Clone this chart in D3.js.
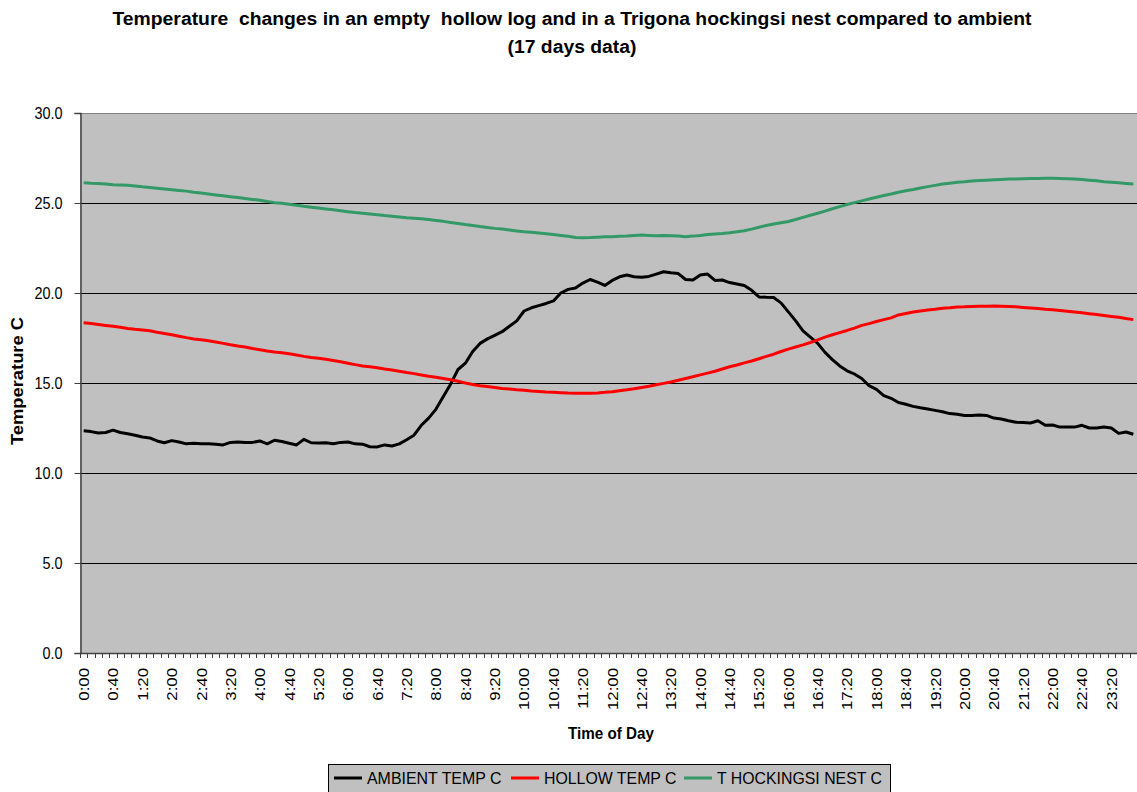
<!DOCTYPE html>
<html>
<head>
<meta charset="utf-8">
<script src="https://cdn.jsdelivr.net/npm/d3@7"></script>
<style>
  body { margin: 0; background: #fff; }
  text { font-family: "Liberation Sans", Arial, sans-serif; }
</style>
</head>
<body>
<div id="chart"></div>
<script>
var width = 1137;
var height = 792;
var margin = { top: 113, bottom: 139, right: 0, left: 80 };

// 10 minute readings, averaged over 17 days
var times = d3.range(144).map(function(i) {
  return Math.floor(i / 6) + ":" + String((i % 6) * 10).padStart(2, "0");
});

var tickLabels = ["0:00","0:40","1:20","2:00","2:40","3:20","4:00","4:40","5:20","6:00",
  "6:40","7:20","8:00","8:40","9:20","10:00","10:40","11:20","12:00","12:40","13:20",
  "14:00","14:40","15:20","16:00","16:40","17:20","18:00","18:40","19:20","20:00",
  "20:40","21:20","22:00","22:40","23:20"];

var yTicks = [0, 5, 10, 15, 20, 25, 30];

var ambient = [
  12.35,12.3,12.22,12.25,12.38,12.25,12.18,12.1,12.0,11.95,
  11.78,11.68,11.8,11.72,11.62,11.65,11.62,11.62,11.6,11.56,
  11.7,11.72,11.7,11.7,11.78,11.62,11.82,11.75,11.65,11.56,
  11.87,11.68,11.66,11.68,11.62,11.7,11.72,11.62,11.6,11.46,
  11.45,11.56,11.5,11.62,11.85,12.1,12.65,13.05,13.55,14.25,
  14.95,15.75,16.1,16.75,17.2,17.45,17.65,17.85,18.15,18.45,
  19.0,19.18,19.3,19.42,19.56,20.0,20.2,20.28,20.55,20.75,
  20.6,20.42,20.7,20.9,21.0,20.9,20.88,20.92,21.05,21.18,
  21.12,21.08,20.75,20.72,21.0,21.05,20.7,20.72,20.58,20.5,
  20.42,20.15,19.78,19.76,19.75,19.45,18.95,18.45,17.9,17.55,
  17.2,16.7,16.3,15.95,15.68,15.5,15.25,14.85,14.65,14.3,
  14.15,13.92,13.82,13.7,13.62,13.55,13.48,13.4,13.3,13.26,
  13.2,13.2,13.22,13.2,13.05,13.0,12.9,12.82,12.8,12.78,
  12.9,12.65,12.67,12.55,12.55,12.55,12.65,12.5,12.5,12.55,
  12.5,12.2,12.28,12.15
];

var hollow = [
  18.35,18.3,18.25,18.2,18.15,18.1,18.03,17.98,17.95,17.9,
  17.82,17.75,17.68,17.6,17.52,17.45,17.4,17.35,17.28,17.2,
  17.12,17.05,17.0,16.92,16.85,16.78,16.72,16.68,16.62,16.55,
  16.48,16.42,16.38,16.32,16.25,16.18,16.1,16.02,15.95,15.9,
  15.85,15.78,15.72,15.65,15.58,15.52,15.45,15.38,15.32,15.25,
  15.18,15.1,15.0,14.92,14.85,14.8,14.75,14.7,14.67,14.63,
  14.6,14.56,14.53,14.5,14.48,14.46,14.44,14.43,14.43,14.43,
  14.45,14.48,14.52,14.57,14.62,14.68,14.75,14.82,14.9,14.98,
  15.06,15.15,15.25,15.35,15.45,15.55,15.65,15.78,15.9,16.0,
  16.12,16.22,16.35,16.48,16.6,16.75,16.88,17.0,17.12,17.25,
  17.4,17.55,17.68,17.8,17.92,18.05,18.2,18.3,18.42,18.52,
  18.62,18.78,18.86,18.94,19.0,19.06,19.1,19.15,19.18,19.22,
  19.23,19.25,19.26,19.27,19.28,19.27,19.25,19.23,19.2,19.17,
  19.14,19.1,19.07,19.03,18.99,18.95,18.9,18.85,18.8,18.75,
  18.7,18.65,18.58,18.52
];

var nest = [
  26.13,26.1,26.08,26.05,26.02,26.0,25.98,25.95,25.9,25.86,
  25.82,25.78,25.74,25.7,25.66,25.6,25.55,25.5,25.45,25.4,
  25.35,25.3,25.25,25.2,25.15,25.08,25.02,24.98,24.93,24.88,
  24.82,24.77,24.72,24.67,24.62,24.57,24.52,24.47,24.43,24.39,
  24.35,24.3,24.26,24.22,24.18,24.15,24.12,24.08,24.03,23.98,
  23.92,23.86,23.8,23.75,23.69,23.64,23.59,23.55,23.5,23.45,
  23.4,23.37,23.33,23.29,23.25,23.2,23.15,23.08,23.07,23.08,
  23.1,23.12,23.13,23.15,23.17,23.2,23.22,23.2,23.18,23.2,
  23.18,23.16,23.13,23.16,23.2,23.25,23.28,23.31,23.35,23.4,
  23.46,23.55,23.65,23.75,23.83,23.9,23.97,24.08,24.2,24.32,
  24.43,24.55,24.68,24.8,24.92,25.02,25.12,25.22,25.32,25.42,
  25.5,25.6,25.68,25.75,25.83,25.91,25.98,26.05,26.1,26.15,
  26.18,26.22,26.25,26.27,26.29,26.31,26.33,26.34,26.35,26.36,
  26.36,26.37,26.37,26.36,26.35,26.33,26.3,26.27,26.23,26.18,
  26.15,26.12,26.09,26.06
];

var seriesNames = ["AMBIENT TEMP C", "HOLLOW TEMP C", "T HOCKINGSI NEST C"];
var seriesColors = ["#000000", "#ff0000", "#339966"];
var series = [ambient, hollow, nest];

var svg = d3.select("#chart")
  .append("svg")
  .attr("width", width)
  .attr("height", height);

// squeeze text the way the old excel export does
function squeeze(sel, k) {
  sel.each(function() {
    var len = this.getComputedTextLength();
    d3.select(this).attr("textLength", len * k).attr("lengthAdjust", "spacingAndGlyphs");
  });
}

var xScale = d3.scaleBand()
  .domain(times)
  .range([margin.left, width - margin.right])
  .paddingInner(0)
  .paddingOuter(0);

var yScale = d3.scaleLinear()
  .domain([0, 30])
  .range([height - margin.bottom, margin.top]);

var x0 = margin.left, x1 = width - margin.right;

// plot area
svg.append("rect")
  .attr("x", x0)
  .attr("y", margin.top)
  .attr("width", x1 - x0)
  .attr("height", yScale(0) - margin.top)
  .attr("fill", "#c0c0c0");

// gridlines
svg.append("g")
  .selectAll("line")
  .data(yTicks.filter(function(d) { return d > 0 && d < 30; }))
  .enter()
  .append("line")
  .attr("x1", x0)
  .attr("x2", x1)
  .attr("y1", function(d) { return Math.round(yScale(d)) + 0.5; })
  .attr("y2", function(d) { return Math.round(yScale(d)) + 0.5; })
  .attr("stroke", "#000")
  .attr("stroke-width", 1);

svg.append("line")
  .attr("x1", x0).attr("x2", x1)
  .attr("y1", margin.top + 0.5).attr("y2", margin.top + 0.5)
  .attr("stroke", "#808080");

// lines
var line = d3.line()
  .x(function(d, i) { return xScale(times[i]) + xScale.bandwidth() / 2; })
  .y(function(d) { return yScale(d); });

svg.append("g")
  .selectAll("path")
  .data(series)
  .enter()
  .append("path")
  .attr("d", line)
  .attr("fill", "none")
  .attr("stroke", function(d, i) { return seriesColors[i]; })
  .attr("stroke-width", 3)
  .attr("stroke-linejoin", "round");

// y axis
var axisy = d3.axisLeft(yScale)
  .tickValues(yTicks)
  .tickSize(6)
  .tickPadding(12)
  .tickFormat(d3.format(".1f"));

var gy = svg.append("g")
  .attr("transform", "translate(" + (x0 + 0.5) + ",0)")
  .call(axisy);
gy.select(".domain").attr("stroke", "#404040").attr("stroke-width", 1.5);
gy.selectAll(".tick line").attr("stroke", "#404040");
gy.selectAll(".tick text")
  .attr("font-size", "16px")
  .attr("font-family", "Liberation Sans, Arial, sans-serif")
  .attr("fill", "#000")
  .call(squeeze, 0.9);

// x axis: tick at each category boundary
var bounds = times.map(function(t) { return xScale(t); }).concat([x1]);
svg.append("g")
  .selectAll("line")
  .data(bounds)
  .enter()
  .append("line")
  .attr("x1", function(d) { return Math.round(d) + 0.5; })
  .attr("x2", function(d) { return Math.round(d) + 0.5; })
  .attr("y1", yScale(0))
  .attr("y2", yScale(0) + 5)
  .attr("stroke", "#404040");

svg.append("line")
  .attr("x1", x0).attr("x2", x1)
  .attr("y1", yScale(0) + 0.5).attr("y2", yScale(0) + 0.5)
  .attr("stroke", "#404040")
  .attr("stroke-width", 1.5);

svg.append("g")
  .selectAll("text")
  .data(tickLabels)
  .enter()
  .append("text")
  .attr("transform", function(d) {
    var cx = xScale(d) + xScale.bandwidth() / 2;
    return "translate(" + cx + "," + (yScale(0) + 15) + ") rotate(-90)";
  })
  .attr("text-anchor", "end")
  .attr("dy", "0.36em")
  .attr("font-size", "15px")
  .text(function(d) { return d; })
  .call(squeeze, 1.12);

// axis titles
svg.append("text")
  .attr("x", 611)
  .attr("y", 739)
  .attr("text-anchor", "middle")
  .attr("font-size", "16px")
  .attr("font-weight", "bold")
  .text("Time of Day")
  .call(squeeze, 0.95);

svg.append("text")
  .attr("transform", "translate(23,381) rotate(-90)")
  .attr("text-anchor", "middle")
  .attr("font-size", "16px")
  .attr("font-weight", "bold")
  .attr("textLength", 128)
  .attr("lengthAdjust", "spacingAndGlyphs")
  .text("Temperature C");

// title
svg.append("text")
  .attr("x", 572)
  .attr("y", 25)
  .attr("text-anchor", "middle")
  .attr("font-size", "18px")
  .attr("font-weight", "bold")
  .attr("textLength", 919)
  .attr("lengthAdjust", "spacingAndGlyphs")
  .attr("xml:space", "preserve")
  .style("white-space", "pre")
  .text("Temperature  changes in an empty  hollow log and in a Trigona hockingsi nest compared to ambient");

svg.append("text")
  .attr("x", 572)
  .attr("y", 53)
  .attr("text-anchor", "middle")
  .attr("font-size", "18px")
  .attr("font-weight", "bold")
  .attr("textLength", 129)
  .attr("lengthAdjust", "spacingAndGlyphs")
  .text("(17 days data)");

// legend
var legend = svg.append("g");
legend.append("rect")
  .attr("x", 328.5)
  .attr("y", 764.5)
  .attr("width", 562)
  .attr("height", 40)
  .attr("fill", "#c0c0c0")
  .attr("stroke", "#000");

var legX = [334, 511, 684];
var legW = [134.5, 132.5, 165];
seriesNames.forEach(function(name, i) {
  legend.append("line")
    .attr("x1", legX[i]).attr("x2", legX[i] + 28)
    .attr("y1", 778).attr("y2", 778)
    .attr("stroke", seriesColors[i])
    .attr("stroke-width", 3);
  legend.append("text")
    .attr("x", legX[i] + 33)
    .attr("y", 784)
    .attr("font-size", "17px")
    .attr("textLength", legW[i])
    .attr("lengthAdjust", "spacingAndGlyphs")
    .text(name);
});
</script>
</body>
</html>
